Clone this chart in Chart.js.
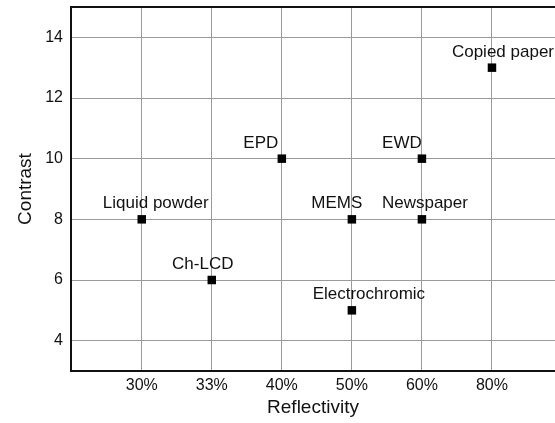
<!DOCTYPE html>
<html>
<head>
<meta charset="utf-8">
<script src="https://cdn.jsdelivr.net/npm/chart.js@4"></script>
<style>
  html, body { margin: 0; padding: 0; background: #fff; overflow: hidden; }
  #wrap { width: 555px; height: 423px; overflow: hidden; }
</style>
</head>
<body>
<div id="wrap"><canvas id="scatterchart" width="561" height="423"></canvas></div>
<script>
// reflectivity categories on x, contrast on y
const reflectivity = ['30%', '33%', '40%', '50%', '60%', '80%'];
const names = ['Liquid powder', 'Ch-LCD', 'EPD', 'MEMS', 'Electrochromic', 'EWD', 'Newspaper', 'Copied paper'];
const xIndex = [0, 1, 2, 3, 3, 4, 4, 5];
const contrast = [8, 6, 10, 8, 5, 10, 8, 13];
const yTicks = [4, 6, 8, 10, 12, 14];

// label nudges (px) so text sits like the original
const labelDx = [14, -9, -21, -15, 17, -20, 3, 11];

const points = xIndex.map((x, i) => ({ x: x, y: contrast[i] }));
const FONT = '"Liberation Sans", Arial, sans-serif';

const labelPlugin = {
  id: 'labels',
  afterDatasetsDraw(chart) {
    const ctx = chart.ctx;
    const meta = chart.getDatasetMeta(0);
    ctx.save();
    ctx.font = '17px ' + FONT;
    ctx.fillStyle = '#111';
    ctx.textAlign = 'center';
    ctx.textBaseline = 'alphabetic';
    meta.data.forEach((pt, i) => {
      ctx.fillText(names[i], pt.x + labelDx[i], pt.y - 11);
    });
    // top frame line
    const a = chart.chartArea;
    ctx.strokeStyle = '#111';
    ctx.lineWidth = 2;
    ctx.beginPath();
    ctx.moveTo(a.left - 1, a.top);
    ctx.lineTo(a.right, a.top);
    ctx.stroke();
    ctx.restore();
  }
};

function noPad(axis) {
  axis.paddingTop = 0;
  axis.paddingBottom = 0;
  axis.paddingLeft = 0;
  axis.paddingRight = 0;
}

const scatterconfig = {
  type: 'scatter',
  data: {
    datasets: [{
      label: 'Contrast',
      data: points,
      pointStyle: 'rect',
      pointRadius: 6,
      pointHoverRadius: 6,
      backgroundColor: '#000',
      borderColor: '#000',
      borderWidth: 0
    }]
  },
  options: {
    responsive: false,
    animation: false,
    layout: { padding: { top: 7, right: 0, left: 0, bottom: 0 } },
    plugins: { legend: { display: false }, tooltip: { enabled: false } },
    scales: {
      x: {
        type: 'linear',
        min: -1.01,
        max: 5.9,
        afterBuildTicks: (axis) => { axis.ticks = reflectivity.map((_, i) => ({ value: i })); },
        afterFit: (axis) => { axis.height = 52; noPad(axis); },
        ticks: {
          callback: (v) => reflectivity[v] || '',
          color: '#111',
          font: { family: FONT, size: 16 },
          padding: 5,
          maxRotation: 0
        },
        grid: { color: '#9a9a9a', lineWidth: 1, drawTicks: false },
        border: { color: '#111', width: 2 },
        title: {
          display: true,
          text: 'Reflectivity',
          color: '#111',
          font: { family: FONT, size: 19 },
          padding: { top: 5 }
        }
      },
      y: {
        min: 3,
        max: 15,
        afterBuildTicks: (axis) => { axis.ticks = yTicks.map((v) => ({ value: v })); },
        afterFit: (axis) => { axis.width = 71; noPad(axis); },
        ticks: {
          color: '#111',
          font: { family: FONT, size: 16 },
          padding: 8
        },
        grid: { color: '#9a9a9a', lineWidth: 1, drawTicks: false },
        border: { color: '#111', width: 2 },
        title: {
          display: true,
          text: 'Contrast',
          color: '#111',
          font: { family: FONT, size: 19 },
          padding: { top: 14, bottom: 0 }
        }
      }
    }
  },
  plugins: [labelPlugin]
};

const scatterchart = new Chart(document.getElementById('scatterchart'), scatterconfig);
</script>
</body>
</html>
